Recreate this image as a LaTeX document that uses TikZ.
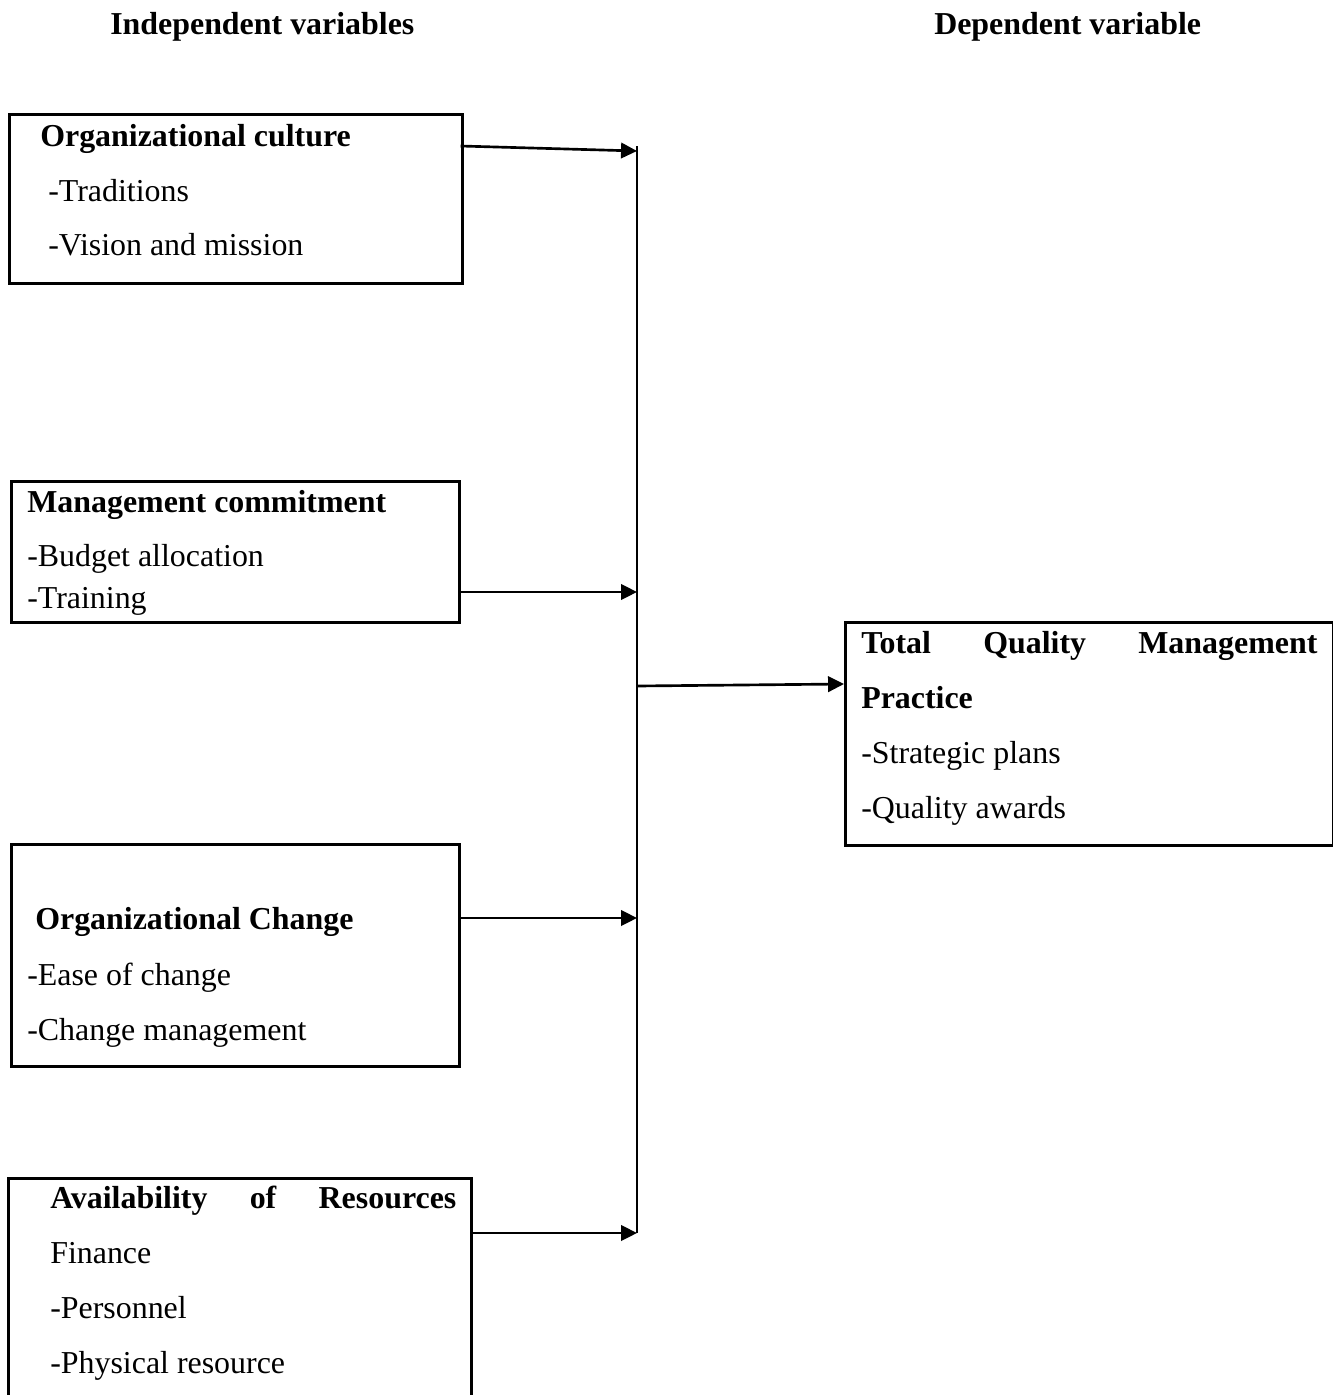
\documentclass[tikz,border=0pt]{standalone}
\usepackage{fontspec}
\setmainfont{Liberation Serif}
\usepackage{tikz}
\usetikzlibrary{positioning,arrows.meta,calc}

\newcommand{\unitpx}{0.376pt}

\begin{document}
\begin{tikzpicture}[x=0.376pt,y=-0.376pt,font=\fontsize{12}{14}\selectfont,
                    line width=0.95pt]
  \tikzstyle{varbox}=[draw=black,rectangle,inner sep=0pt,anchor=north west]
  \tikzstyle{txt}=[anchor=base west,inner sep=0pt]
  \tikzstyle{flow}=[-{Triangle[length=6pt,width=5.8pt]},line width=1pt]

  \useasboundingbox (0,0) rectangle (1333,1395);
  \clip (0,0) rectangle (1333,1395);

  % headings
  \node[txt] (indep) at (109,35) {\bfseries Independent variables};
  \node[txt] (dep)   at (933,35) {\bfseries Dependent variable};

  % boxes
  \node[varbox,minimum width=453*\unitpx,minimum height=169*\unitpx] (oc)   at (8,113)   {};
  \node[varbox,minimum width=448*\unitpx,minimum height=141*\unitpx] (mc)   at (10,480)  {};
  \node[varbox,minimum width=448*\unitpx,minimum height=222*\unitpx] (ochg) at (10,843)  {};
  \node[varbox,minimum width=463*\unitpx,minimum height=260*\unitpx] (ar)   at (7,1177)  {};
  \node[varbox,minimum width=488*\unitpx,minimum height=223*\unitpx] (tqm)  at (844,621) {};

  % box texts
  \node[txt] (oc-title) at (39,146) {\bfseries Organizational culture};
  \node[txt] (oc-a)     at (47,201) {-Traditions};
  \node[txt] (oc-b)     at (47,255) {-Vision and mission};

  \node[txt] (mc-title) at (26,512) {\bfseries Management commitment};
  \node[txt] (mc-a)     at (26,566) {-Budget allocation};
  \node[txt] (mc-b)     at (26,608) {-Training};

  \node[txt] (ochg-title) at (34,929)  {\bfseries Organizational Change};
  \node[txt] (ochg-a)     at (26,985)  {-Ease of change};
  \node[txt] (ochg-b)     at (26,1040) {-Change management};

  \node[txt] (ar-title) at (49,1208) {\bfseries\makebox[152.7pt][s]{Availability of Resources}};
  \node[txt] (ar-a)     at (49,1263) {Finance};
  \node[txt] (ar-b)     at (49,1318) {-Personnel};
  \node[txt] (ar-c)     at (49,1373) {-Physical resource};

  \node[txt] (tqm-title) at (860,653) {\bfseries\makebox[171.5pt][s]{Total Quality Management}};
  \node[txt] (tqm-b)     at (860,708) {\bfseries Practice};
  \node[txt] (tqm-c)     at (860,763) {-Strategic plans};
  \node[txt] (tqm-d)     at (860,818) {-Quality awards};

  % bus line and arrows
  \coordinate (bustop) at (637,146);
  \coordinate (busbot) at (637,1233);
  \coordinate (in1) at (637,151);
  \coordinate (in2) at (637,592);
  \coordinate (in3) at (637,918);
  \coordinate (in4) at (637,1233);
  \coordinate (hub) at (637,686);
  \coordinate (tqm-in) at (844,684);

  \draw (bustop) -- (busbot);
  \draw[flow] ($(oc.north east)+(-3,33)$) -- (in1);
  \draw[flow] (mc.east |- in2) -- (in2);
  \draw[flow] (ochg.east |- in3) -- (in3);
  \draw[flow] (ar.east |- in4) -- (in4);
  \draw[flow] (hub) -- (tqm-in);
\end{tikzpicture}
\end{document}
